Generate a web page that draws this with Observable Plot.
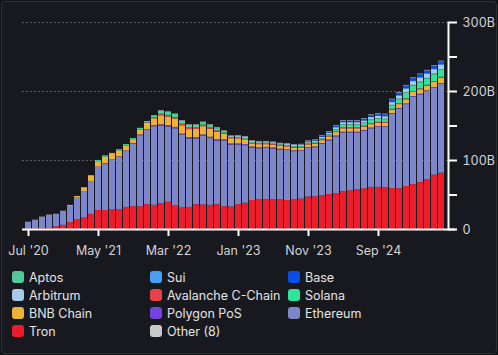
<!DOCTYPE html>
<html>
<head>
<meta charset="utf-8">
<script src="https://cdn.jsdelivr.net/npm/d3@7"></script>
<script src="https://cdn.jsdelivr.net/npm/@observablehq/plot@0.6"></script>
<style>
  html, body { margin: 0; padding: 0; background: #121317; width: 498px; height: 355px; overflow: hidden; }
  #card {
    position: absolute; left: 1px; top: 1px; width: 494px; height: 351px;
    border: 1px solid #2e2f35; border-radius: 4px; background: #18191e;
    font-family: Inter, "Noto Sans", sans-serif;
  }
  #chart { position: absolute; left: -2px; top: -2px; width: 498px; }
  #chart svg { max-width: none; display: block; }
  #legend {
    position: absolute; left: 10px; top: 266px;
    display: grid; grid-template-columns: 138px 138px 138px; grid-auto-rows: 18px;
    color: #e4e4e6; font-size: 12.5px;
  }
  .item { display: flex; align-items: center; white-space: nowrap; }
  .sw { width: 12px; height: 12px; border-radius: 3px; margin-right: 5px; flex: none; }
</style>
</head>
<body>
<div id="card"><div id="chart"></div><div id="legend"></div></div>
<script>
// Month index 0 = Jul 2020 ... 59 = Jun 2025 (values in billions USD)
const months = d3.range(60);
const tickIndex = [0, 10, 20, 30, 40, 50];
const tickLabels = ["Jul '20", "May '21", "Mar '22", "Jan '23", "Nov '23", "Sep '24"];

const tron = [0.3,0.8,1,1.5,4,6,10,14,16.5,22,27.5,27.5,29,29,32,33,33,36,35,37.7,
  39.5,34,32,32,36,35.5,35,36,33,32.5,36,38,42,43.5,43.5,43,43,42,43.5,44,
  47,47.5,49,50.7,51.7,55,56,57.5,59,61,61,60.5,59.4,59,62.3,65,68,72,78.7,81.6];
const ethereum = [9.9,12.4,16.7,19.2,17.7,20.2,23.5,31.5,38.5,47.4,62.5,67.5,71,75.5,81,91,103,107.5,114,112,
  109,112,104.3,99.3,95,99.5,96.7,92,95.5,90,86.5,83.5,76,73.5,74,73.6,72.2,72.5,69.3,69,
  70.5,71,74.5,77.8,82.6,85,84,82.5,83.5,85,87,87.5,107.6,115.5,118.7,126.7,127,127.8,125.8,128.8];
const polygon = [0,0,0,0,0,0,0,0,0,0,0.3,0.5,0.7,0.7,0.7,0.7,1,1.2,1.5,2,
  2,2,2,2,2,2,2,2,1.5,1.5,1.5,1.5,1.5,1.5,1.5,1.5,1.2,1.2,1.2,1.2,
  1.2,1.2,1.2,1.2,1.2,1,1,1,1,1,1,1,1,1,1,1,1,1,1,1];
const bnb = [0.2,0.2,0.2,0.2,0.2,0.2,1.3,2.3,5.5,8.5,8,9.5,8,8.5,7,5.5,7.5,9,10,13,
  12.5,12,12,11.5,12,12,11.5,11,8,7.5,7.5,7,4.5,4.5,4,4,4,4,4,4,
  4,4,4,4.5,5,5,5,5,5,5,5,5,5,5.5,6,6,6.5,7,7.5,8];
const avalanche = [0,0,0,0,0,0,0,0,0,0,0,0,0,0,0.3,0.3,0.5,0.7,1.2,2.5,
  2.5,2.5,2.5,2.5,2.3,2.3,2.3,2,1.5,1,1,1,1,1,1,1,1,1,1,1,
  1,1,1,1,1,1.2,1.2,1.2,1.2,1.2,1.2,1.2,1.2,1.2,1.2,1.2,1.2,1.2,1.2,1.2];
const solana = [0,0,0,0,0,0,0,0,0,0,1.5,1.7,1.5,1.8,2,1.2,1.5,2,2.5,4,
  4,4,4,3.5,3.5,3.5,3,3,1.5,1,1,1,1,1,1,1,1,1,1,1,
  1,1.2,1.5,2,3,4,4,4,4,5,5,4,5,6,8,8,9,9,10,10];
const aptos = [0,0,0,0,0,0,0,0,0,0,0,0,0,0,0,0,0,0,0,0,
  0,0,0,0,0,0,0,0,0,0,0,0,0,0,0.2,0.2,0.2,0.2,0.2,0.2,
  0.3,0.3,0.3,0.4,0.4,0.5,0.5,0.5,0.5,0.5,0.6,0.6,0.7,0.8,0.8,0.9,0.9,1,1,1];
const arbitrum = [0,0,0,0,0,0,0,0,0,0,0,0,0,0,0,0,0,0,0,0,
  0,0,0,0,0,0,0.5,0.8,1,1.2,1.5,1.5,1.5,1.5,1.5,1.5,1.5,1.5,1.5,1.5,
  1.7,1.8,2,2,2.5,3,3,3,3,3.5,3.5,3.5,4,4.5,5.5,5.5,6,6,6.5,6.5];
const sui = [0,0,0,0,0,0,0,0,0,0,0,0,0,0,0,0,0,0,0,0,
  0,0,0,0,0,0,0,0,0,0,0,0,0,0,0,0,0,0,0.3,0.3,
  0.3,0.3,0.3,0.3,0.5,0.5,0.5,0.5,0.5,0.5,0.5,0.5,1,1,1,1,1,1,1,1];
const base = [0,0,0,0,0,0,0,0,0,0,0,0,0,0,0,0,0,0,0,0,
  0,0,0,0,0,0,0,0,0,0,0,0,0,0,0,0,0,0.2,0.4,0.4,
  0.4,0.6,1,1.2,1.5,2,2,2,2.3,2.5,2.5,2.5,3,3,3.5,3.5,3.8,3.8,4,4];
const other8 = [0.1,0.1,0.1,0.1,0.1,0.1,0.1,0.1,0.1,0.1,0.1,0.1,0.1,0.1,0.1,0.1,0.1,0.1,0.8,0.8,
  0.8,0.8,0.8,0.8,0.8,0.8,0.8,0.8,0.8,0.8,0.8,0.8,0.8,0.8,0.8,0.8,0.8,0.8,0.8,0.8,
  0.8,0.8,0.8,0.8,0.8,0.8,0.8,0.8,0.8,0.8,0.8,0.8,0.8,0.8,0.8,0.8,0.8,0.8,0.8,0.8];

// stacking order, bottom to top
const stackNames = ["Tron","Ethereum","Polygon PoS","BNB Chain","Avalanche C-Chain","Solana","Aptos","Arbitrum","Sui","Base","Other (8)"];
const stackValues = [tron, ethereum, polygon, bnb, avalanche, solana, aptos, arbitrum, sui, base, other8];

// legend order
const legendNames = ["Aptos","Sui","Base","Arbitrum","Avalanche C-Chain","Solana","BNB Chain","Polygon PoS","Ethereum","Tron","Other (8)"];
const colorMap = {
  "Aptos": "#52c99b", "Sui": "#4a9ff5", "Base": "#0a4ee8", "Arbitrum": "#a3cbea",
  "Avalanche C-Chain": "#e8414a", "Solana": "#2ee69b", "BNB Chain": "#ecb23a",
  "Polygon PoS": "#7442e0", "Ethereum": "#7c86c9", "Tron": "#ec1c2a", "Other (8)": "#c9c9cc"
};

const rows = [];
stackNames.forEach((name, k) => {
  months.forEach(i => rows.push({i, series: name, value: stackValues[k][i]}));
});

const plot = Plot.plot({
  width: 498,
  height: 262,
  marginTop: 22,
  marginBottom: 33,
  marginLeft: 22,
  marginRight: 50,
  style: {background: "transparent", color: "#d4d4d8", fontFamily: "Inter, sans-serif", fontSize: "12px", maxWidth: "none"},
  x: {type: "band", domain: months, paddingInner: 0.14, paddingOuter: 0.02, axis: null},
  y: {domain: [0, 300], axis: null},
  color: {domain: stackNames, range: stackNames.map(n => colorMap[n])},
  marks: [
    Plot.gridY([100, 200, 300], {stroke: "#8a8b90", strokeOpacity: 0.6, strokeDasharray: "2,2"}),
    Plot.barY(rows, {x: "i", y: "value", fill: "series", order: stackNames}),
    Plot.ruleY([0], {stroke: "#ffffff", strokeWidth: 2, insetRight: -7}),
    Plot.frame({anchor: "right", stroke: "#ffffff", strokeWidth: 2}),
    Plot.axisY(d3.range(0, 301, 50), {anchor: "right", label: null, tickSize: 8, tickPadding: 6, stroke: "#ffffff", strokeWidth: 2, strokeOpacity: 1,
      fill: "#d4d4d8", fontSize: 12.5,
      tickFormat: d => d === 0 ? "0" : (d % 100 === 0 ? d + "B" : "")}),
    Plot.axisX(tickIndex, {anchor: "bottom", label: null, tickSize: 7, tickPadding: 10, stroke: "#ffffff", strokeWidth: 2, strokeOpacity: 1,
      fill: "#d4d4d8", fontSize: 12.5,
      tickFormat: d => tickLabels[tickIndex.indexOf(d)]})
  ]
});
document.getElementById("chart").appendChild(plot);

const legend = document.getElementById("legend");
legendNames.forEach(n => {
  const it = document.createElement("div");
  it.className = "item";
  it.innerHTML = `<span class="sw" style="background:${colorMap[n]}"></span><span>${n}</span>`;
  legend.appendChild(it);
});
</script>
</body>
</html>
